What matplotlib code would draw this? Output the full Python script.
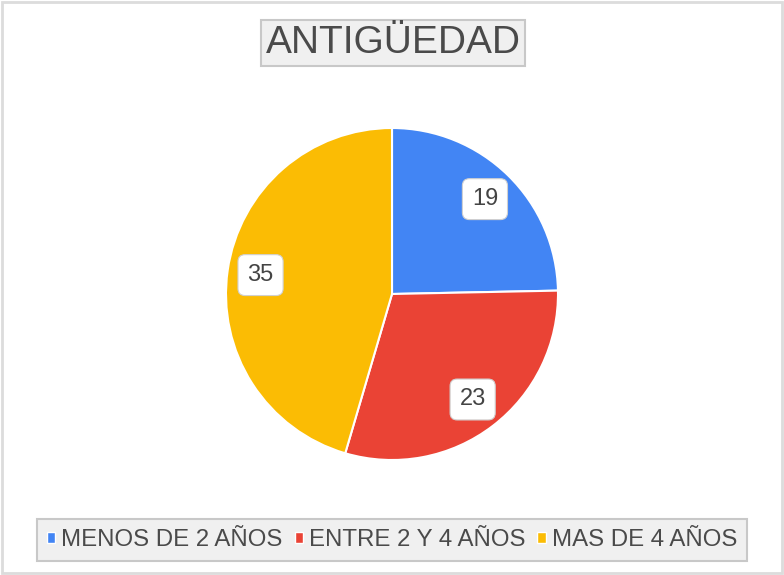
import numpy as np
import matplotlib.pyplot as plt
from matplotlib.patches import Rectangle

# data
categorias = ['MENOS DE 2 AÑOS', 'ENTRE 2 Y 4 AÑOS', 'MAS DE 4 AÑOS']
valores = [19, 23, 35]
colores = ['#4285F4', '#EA4335', '#FBBC04']
titulo = 'ANTIGÜEDAD'

plt.rcParams['font.family'] = ['Liberation Sans', 'DejaVu Sans']
W, H = 784, 575
fig = plt.figure(figsize=(W/100, H/100), dpi=100)

# outer light border
fig.patches.append(Rectangle((2/W, 2/H), 1-4/W, 1-4/H, transform=fig.transFigure,
                             fill=False, edgecolor='#DCDCDC', lw=2))

# pie axes, center (392, 294) radius 166 px
cx, cy, r = 392, 294, 166
ax = fig.add_axes([(cx-r)/W, 1-(cy+r)/H, 2*r/W, 2*r/H])
wedges, textos, autot = ax.pie(valores, colors=colores, startangle=90, counterclock=False,
                               radius=1, autopct=lambda p: '%d' % round(p*sum(valores)/100),
                               pctdistance=0.8,
                               wedgeprops=dict(edgecolor='white', linewidth=1.5))
for t in autot:
    t.set_fontsize(17)
    t.set_color('#444444')
    t.set_bbox(dict(boxstyle='round,pad=0.4,rounding_size=0.3', facecolor='white',
                    edgecolor='#D0D0D0', linewidth=0.8))
ax.set_xlim(-1, 1)
ax.set_ylim(-1, 1)
ax.set_aspect('equal')
ax.axis('off')

# title with box
fig.text(393/W, 1-43/H, titulo, ha='center', va='center', fontsize=28, color='#4A4A4A',
         bbox=dict(boxstyle='square,pad=0.12', facecolor='#F0F0F0', edgecolor='#C8C8C8', linewidth=1.5))

# legend
leg = fig.legend(wedges, categorias, loc='center', bbox_to_anchor=(392/W, 1-540/H), ncol=3,
                 fontsize=17.3, frameon=True, fancybox=False, framealpha=1,
                 handlelength=0.35, handleheight=0.35, handletextpad=0.25, columnspacing=0.5,
                 borderpad=0.4, borderaxespad=0)
leg.get_frame().set_facecolor('#F0F0F0')
leg.get_frame().set_edgecolor('#C8C8C8')
leg.get_frame().set_linewidth(1.5)
for t in leg.get_texts():
    t.set_color('#4A4A4A')
for h in leg.legend_handles:
    h.set_edgecolor('white')
    h.set_linewidth(1)

fig.savefig('out.png', dpi=100, facecolor='white')
